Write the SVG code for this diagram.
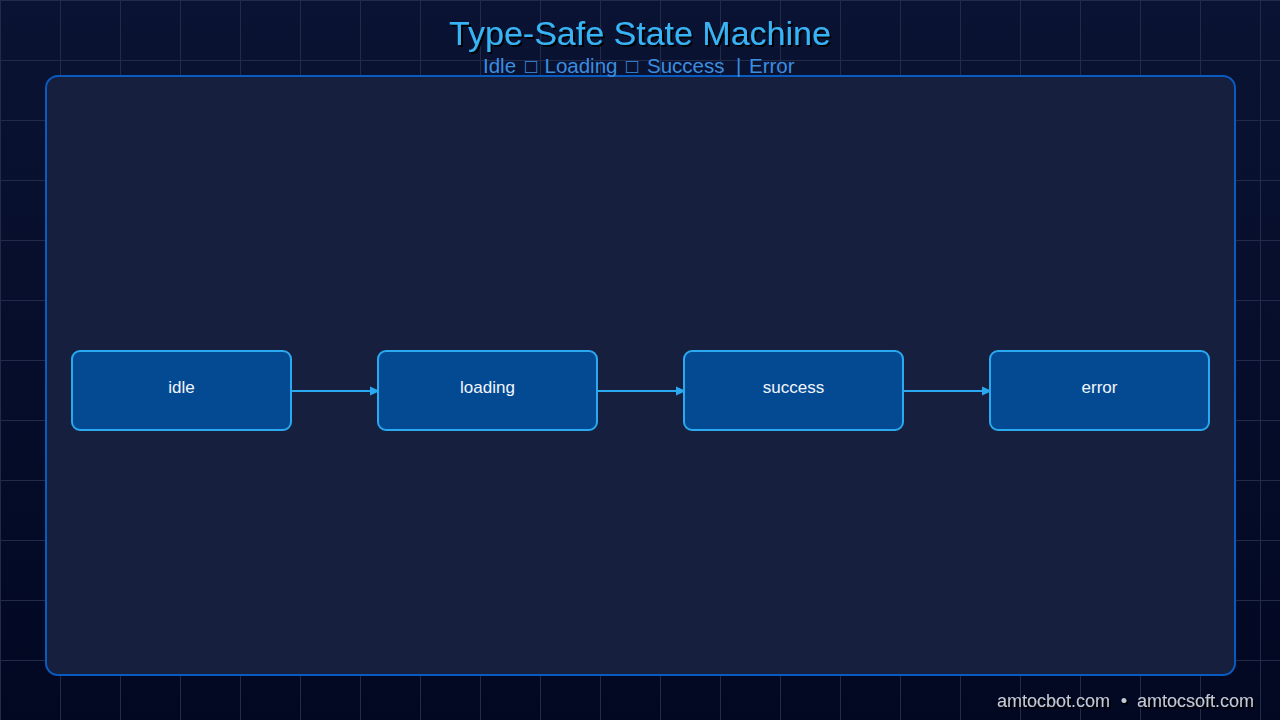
<svg xmlns="http://www.w3.org/2000/svg" width="1280" height="720" viewBox="0 0 1280 720">
<defs>
<linearGradient id="bg" x1="0" y1="0" x2="0" y2="1">
<stop offset="0" stop-color="#0a1333"/>
<stop offset="1" stop-color="#020822"/>
</linearGradient>
<pattern id="grid" width="60" height="60" patternUnits="userSpaceOnUse">
<path d="M0.5 0V60M0 0.5H60" fill="none" stroke="#222b4a" stroke-width="1"/>
</pattern>
<marker id="arr" markerWidth="10" markerHeight="10" refX="9" refY="5" orient="auto" markerUnits="userSpaceOnUse">
<path d="M0 0.5L10 5L0 9.5Z" fill="#2aa8f0"/>
</marker>
<filter id="sh" x="-10%" y="-30%" width="120%" height="160%">
<feDropShadow dx="2" dy="2" stdDeviation="0.6" flood-color="#000" flood-opacity="1"/>
</filter>
</defs>
<style>
.node rect{fill:#044a93;stroke:#2aa8f0;stroke-width:2}
.node text{font-family:"Liberation Sans",Arial,sans-serif;font-size:17px;fill:#f2f6fc;text-anchor:middle}
.conn line{stroke:#2aa8f0;stroke-width:2;marker-end:url(#arr)}
.foot{font-family:"Liberation Sans",Arial,sans-serif;font-size:18px;fill:#c3c9d6}
</style>
<rect width="1280" height="720" fill="url(#bg)"/>
<rect width="1280" height="720" fill="url(#grid)"/>
<rect x="46" y="76" width="1189" height="599" rx="12" fill="#161f3d" stroke="#0a5bbf" stroke-width="2"/>
<text x="640" y="45" text-anchor="middle" font-family="'Liberation Sans',Arial,sans-serif" font-size="34" fill="#38b4f6" filter="url(#sh)">Type-Safe State Machine</text>
<text y="73" font-family="'Liberation Sans',Arial,sans-serif" font-size="20.5" fill="#3a8ee0"><tspan x="483">Idle</tspan><tspan x="525">□</tspan><tspan x="544.5">Loading</tspan><tspan x="626">□</tspan><tspan x="647">Success</tspan><tspan x="736">|</tspan><tspan x="749">Error</tspan></text>
<g class="conn">
<line x1="291" y1="391" x2="379" y2="391"/>
<line x1="597" y1="391" x2="685" y2="391"/>
<line x1="903" y1="391" x2="991" y2="391"/>
</g>
<g id="idle" class="node"><rect x="72" y="351" width="219" height="79" rx="8"/><text x="181.5" y="393">idle</text></g>
<g id="loading" class="node"><rect x="378" y="351" width="219" height="79" rx="8"/><text x="487.5" y="393">loading</text></g>
<g id="success" class="node"><rect x="684" y="351" width="219" height="79" rx="8"/><text x="793.5" y="393">success</text></g>
<g id="error" class="node"><rect x="990" y="351" width="219" height="79" rx="8"/><text x="1099.5" y="393">error</text></g>
<g filter="url(#sh)">
<text class="foot" x="1110" y="707" text-anchor="end">amtocbot.com</text>
<text class="foot" x="1124" y="707" text-anchor="middle">•</text>
<text class="foot" x="1254" y="707" text-anchor="end">amtocsoft.com</text>
</g>
</svg>
